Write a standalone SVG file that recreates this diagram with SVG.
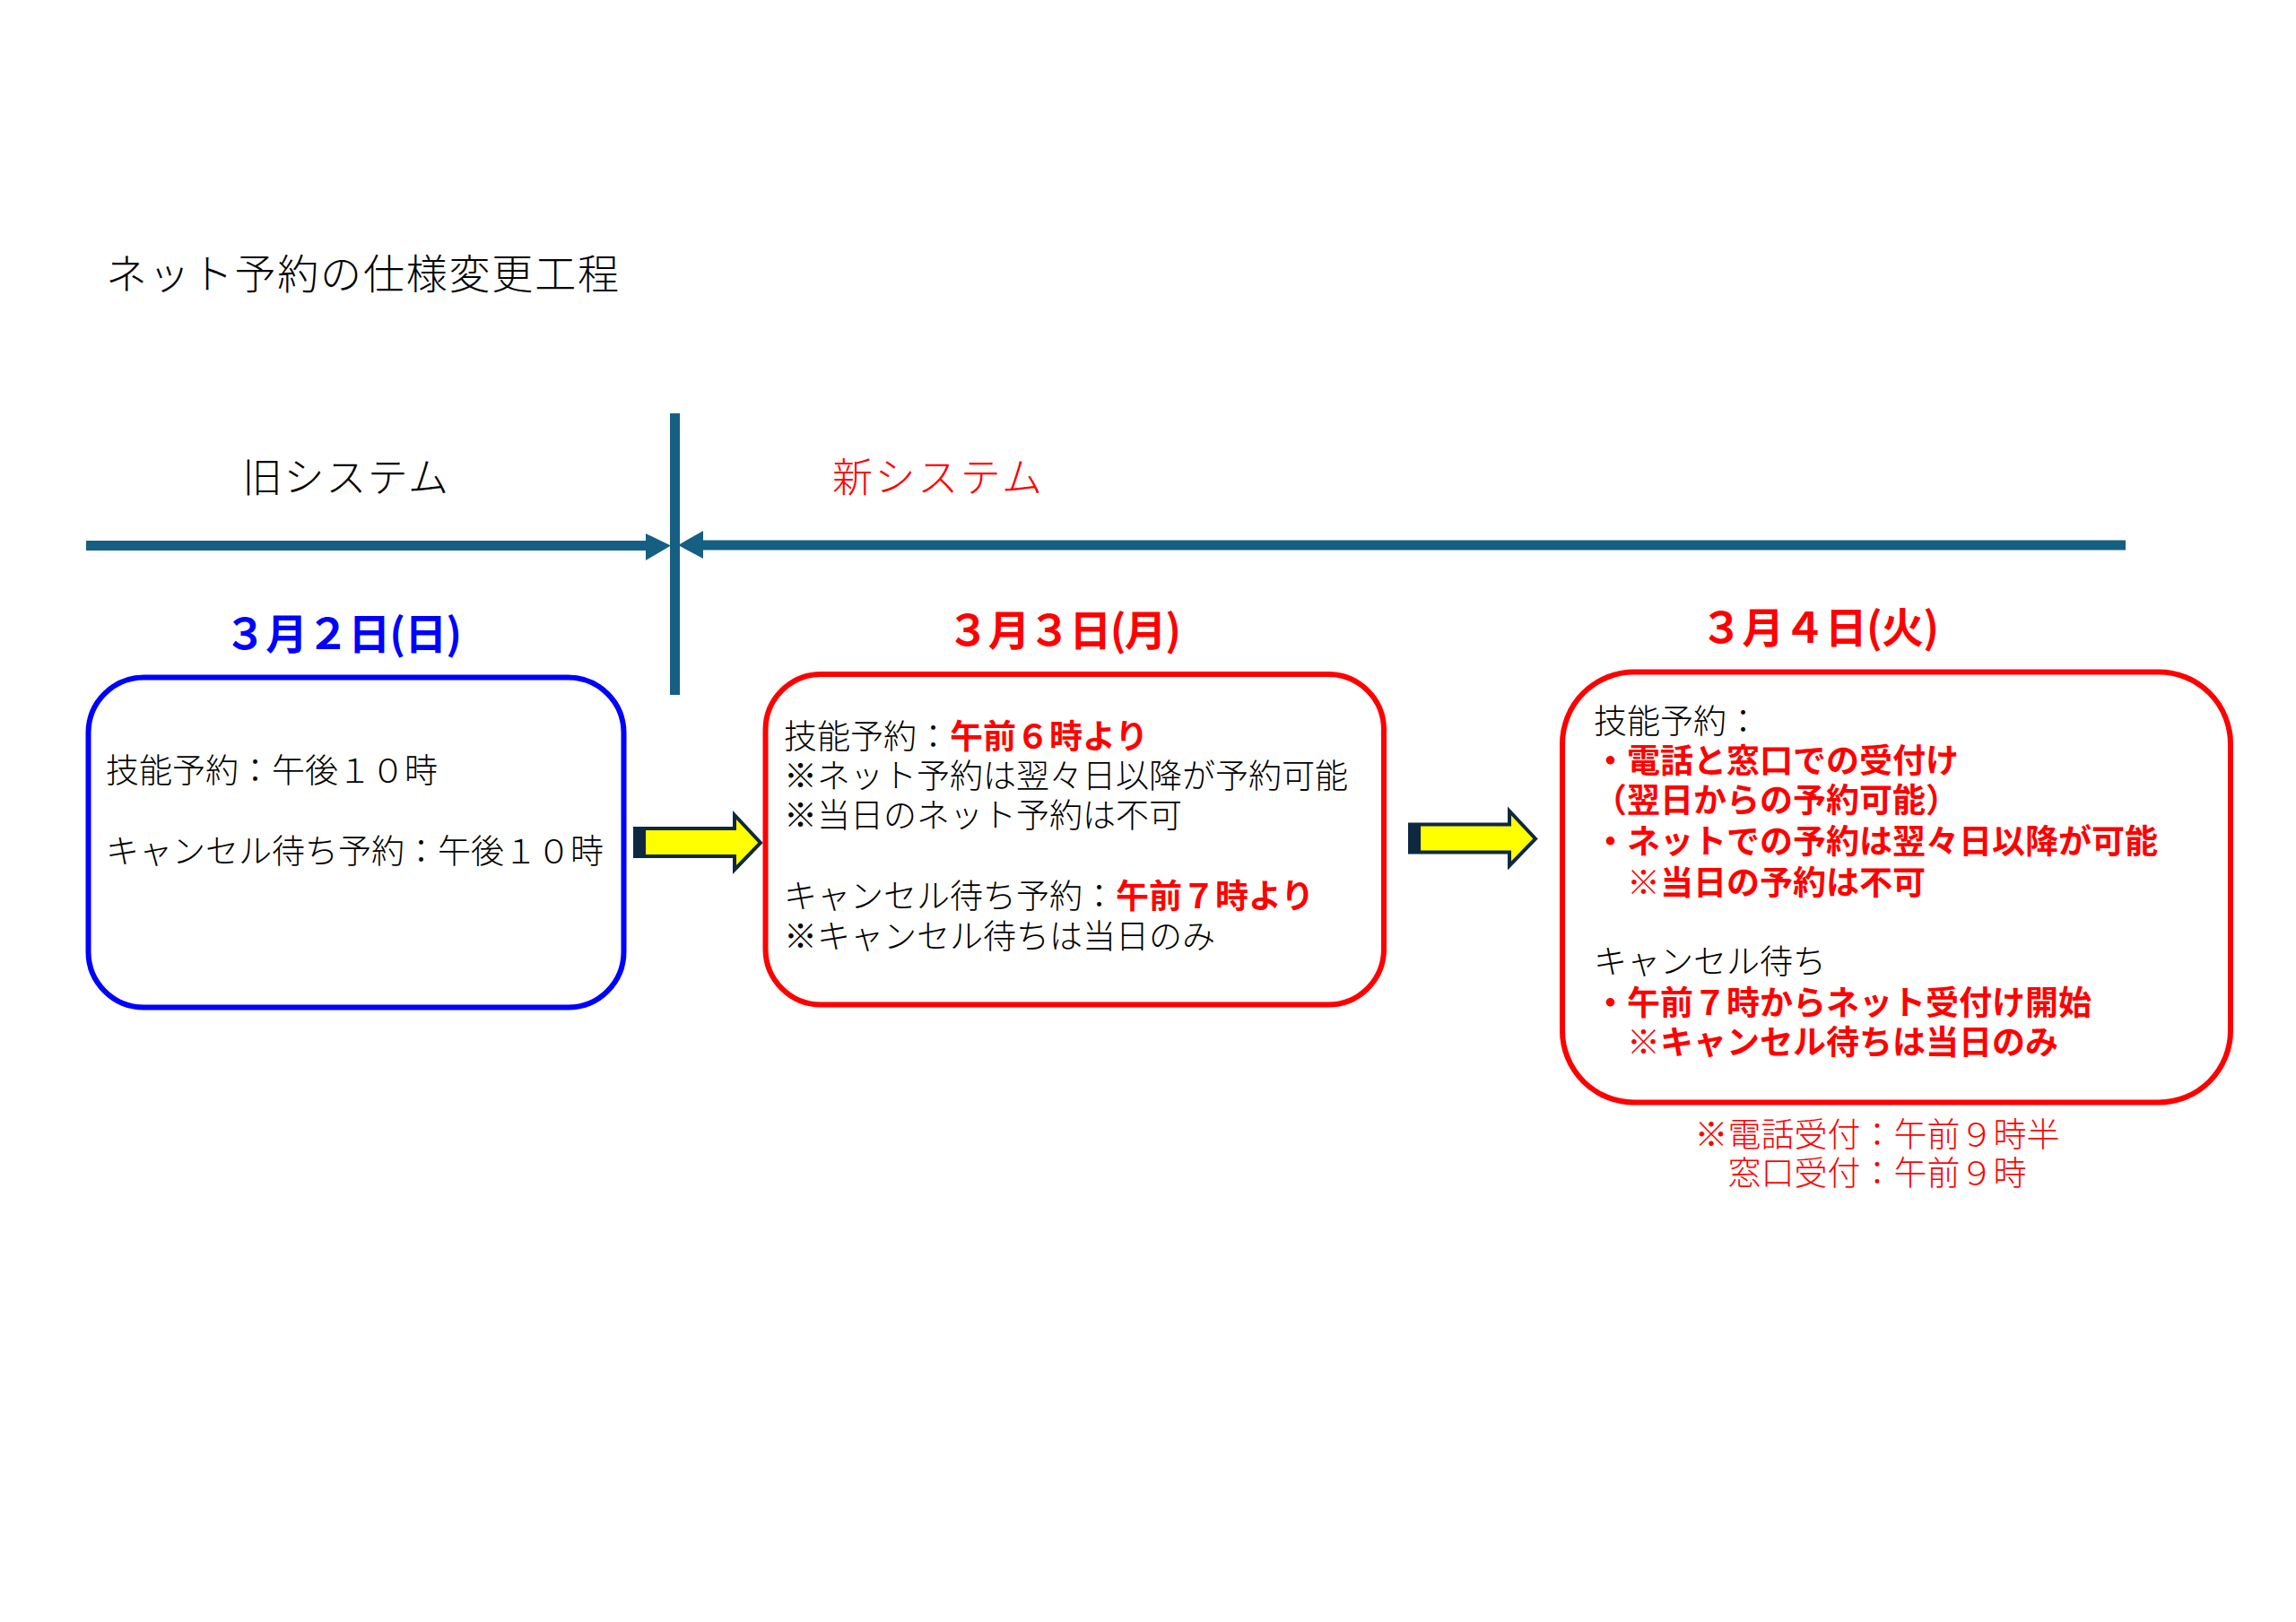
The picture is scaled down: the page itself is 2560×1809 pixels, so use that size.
<svg xmlns="http://www.w3.org/2000/svg" xmlns:xlink="http://www.w3.org/1999/xlink" width="2560" height="1809" viewBox="0 0 2560 1809">
<style>
  .jp { font-family: "Noto Sans CJK JP", "Noto Sans CJK SC", sans-serif; font-weight: 300; }
  .b { font-weight: 700; }
  .body { font-size: 37px; fill: #000; }
  .red { fill: #ff0000; }
  .blue { fill: #0000ff; }
  .date { font-size: 47px; font-weight: 700; }
  .tl { stroke: #156082; stroke-width: 11; fill: none; }
  .tlh { fill: #156082; }
  .box { fill: #fff; stroke-width: 6; }
</style>
<defs>
  <g id="yarrow">
    <polygon points="708,924 819,924 819,909 848,940 819,970 819,955 708,955" fill="#ffff00" stroke="#0e2841" stroke-width="4" stroke-linejoin="miter"/>
    <rect x="708" y="924" width="12" height="31" fill="#0e2841"/>
  </g>
</defs>
<rect x="0" y="0" width="2560" height="1809" fill="#ffffff"/>

<g id="title">
  <text class="jp" x="118" y="322" font-size="46" fill="#000" textLength="572">ネット予約の仕様変更工程</text>
</g>

<g id="label-old">
  <text class="jp" x="270" y="549" font-size="45" fill="#000" textLength="230">旧システム</text>
</g>
<g id="label-new">
  <text class="jp red" x="928" y="549" font-size="45" textLength="234">新システム</text>
</g>

<g id="connectors">
  <line class="tl" x1="96" y1="608.5" x2="721" y2="608.5"/>
  <polygon class="tlh" points="720,595 748,608.5 720,625"/>
  <line class="tl" x1="783" y1="608" x2="2370" y2="608"/>
  <polygon class="tlh" points="784,592 756,608 784,623"/>
  <line class="tl" x1="752.5" y1="461" x2="752.5" y2="775"/>
  <use xlink:href="#yarrow"/>
  <use xlink:href="#yarrow" transform="translate(864,-4.5)"/>
</g>

<g id="node-0302">
  <text class="jp date blue" x="250" y="724" textLength="265">３月２日(日)</text>
  <rect class="box" x="98.5" y="755.5" width="597" height="368" rx="62" ry="62" stroke="#0000ff"/>
  <text class="jp body" x="118" y="873">技能予約：午後１０時</text>
  <text class="jp body" x="118" y="963">キャンセル待ち予約：午後１０時</text>
</g>

<g id="node-0303">
  <text class="jp date red" x="1056" y="720" textLength="261">３月３日(月)</text>
  <rect class="box" x="853.5" y="752" width="689.5" height="368.5" rx="62" ry="62" stroke="#ff0000"/>
  <text class="jp body" x="874" y="835">技能予約：<tspan class="b red">午前６時より</tspan></text>
  <text class="jp body" x="874" y="879">※ネット予約は翌々日以降が予約可能</text>
  <text class="jp body" x="874" y="923">※当日のネット予約は不可</text>
  <text class="jp body" x="874" y="1013">キャンセル待ち予約：<tspan class="b red">午前７時より</tspan></text>
  <text class="jp body" x="874" y="1058">※キャンセル待ちは当日のみ</text>
</g>

<g id="node-0304">
  <text class="jp date red" x="1896" y="717" textLength="266">３月４日(火)</text>
  <rect class="box" x="1742" y="749.5" width="745" height="480" rx="80" ry="80" stroke="#ff0000"/>
  <text class="jp body" x="1777" y="818">技能予約：</text>
  <text class="jp body b red" x="1777" y="862">・電話と窓口での受付け</text>
  <text class="jp body b red" x="1777" y="906">（翌日からの予約可能）</text>
  <text class="jp body b red" x="1777" y="952">・ネットでの予約は翌々日以降が可能</text>
  <text class="jp body b red" x="1777" y="998">　※当日の予約は不可</text>
  <text class="jp body" x="1777" y="1086">キャンセル待ち</text>
  <text class="jp body b red" x="1777" y="1132">・午前７時からネット受付け開始</text>
  <text class="jp body b red" x="1777" y="1176">　※キャンセル待ちは当日のみ</text>
</g>

<g id="note-0304">
  <text class="jp body red" x="2093" y="1279" text-anchor="middle">※電話受付：午前９時半</text>
  <text class="jp body red" x="2093" y="1322" text-anchor="middle">窓口受付：午前９時</text>
</g>
</svg>
